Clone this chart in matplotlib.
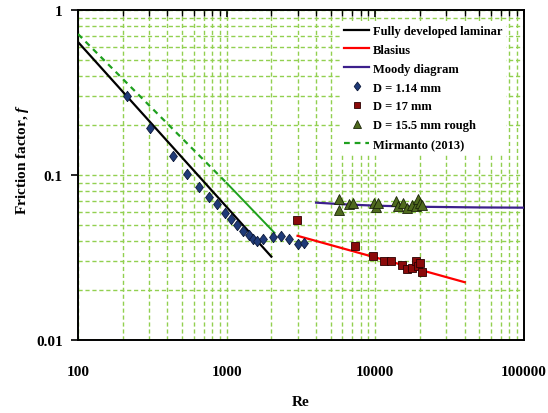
import matplotlib
matplotlib.use("Agg")
import matplotlib.pyplot as plt
from matplotlib.ticker import LogLocator, NullFormatter, FixedLocator, FixedFormatter
import numpy as np

plt.rcParams['font.family'] = ['Liberation Serif', 'DejaVu Serif']
plt.rcParams['font.weight'] = 'bold'
plt.rcParams['mathtext.fontset'] = 'custom'
plt.rcParams['mathtext.it'] = 'Liberation Serif:italic:bold'

# reference lines
lam_re = [100, 2000]
lam_f = [0.64, 0.032]
blas_re = [3000, 40000]
blas_f = [0.0428, 0.0224]
moody_re = [4000, 6000, 10000, 20000, 50000, 100000]
moody_f = [0.068, 0.0665, 0.0652, 0.0642, 0.0636, 0.0634]
mir_re_dash = [100, 1000]
mir_f_dash = [0.715, 0.0895]
mir_re_solid = [1000, 2100]
mir_f_solid = [0.0895, 0.0446]

# D = 1.14 mm
d1_re = [213, 304, 434, 539, 649, 757, 857, 970, 1064, 1168, 1283, 1406, 1500,
         1590, 1770, 2065, 2338, 2648, 3040, 3320]
d1_f = [0.300, 0.194, 0.131, 0.102, 0.085, 0.074, 0.067, 0.059, 0.054, 0.050,
        0.046, 0.043, 0.041, 0.040, 0.041, 0.042, 0.0425, 0.041, 0.038, 0.0385]

# D = 17 mm
d2_re = [2982, 7345, 9700, 11430, 12740, 15100, 16310, 17600, 18730, 19320, 20040, 20680]
d2_f = [0.0536, 0.0373, 0.0323, 0.0302, 0.0303, 0.0283, 0.0268, 0.0275, 0.0303,
        0.0281, 0.0294, 0.0260]

# D = 15.5 mm rough
d3_re = [5673, 5673, 6625, 7080, 9750, 10170, 10430, 13830, 14330, 15320, 16300,
         17600, 18730, 19500, 20040, 20560]
d3_f = [0.0712, 0.0611, 0.0671, 0.0681, 0.0680, 0.0637, 0.0680, 0.0693, 0.0650,
        0.0680, 0.0630, 0.0662, 0.0650, 0.0712, 0.0680, 0.0655]

fig = plt.figure(figsize=(5.48, 4.14), dpi=100)
ax = fig.add_axes([0.1423, 0.1763, 0.8137, 0.7971])

grid_c = '#92d050'
ax.set_xscale('log')
ax.set_yscale('log')
ax.set_xlim(100, 100000)
ax.set_ylim(0.01, 1)

ax.grid(True, which='both', color=grid_c, linestyle=(0, (3, 2)), linewidth=1.0)
ax.set_axisbelow(True)

ax.plot(lam_re, lam_f, color='black', lw=1.6, label='Fully developed laminar', zorder=3)
ax.plot(blas_re, blas_f, color='#ff0000', lw=1.6, label='Blasius', zorder=3)
ax.plot(moody_re, moody_f, color='#3c1f8c', lw=1.6, label='Moody diagram', zorder=3)

diamond = [(0, -1), (0.75, 0), (0, 1), (-0.75, 0), (0, -1)]
ax.plot(d1_re, d1_f, linestyle='none', marker=diamond, markersize=7.5,
        markerfacecolor='#1f3a78', markeredgecolor='#0d1a3a', markeredgewidth=0.6,
        label='D = 1.14 mm', zorder=4)
ax.plot(d2_re, d2_f, linestyle='none', marker='s', markersize=5.5,
        markerfacecolor='#8b0a0a', markeredgecolor='#2a0000', markeredgewidth=0.6,
        label='D = 17 mm', zorder=4)
ax.plot(d3_re, d3_f, linestyle='none', marker='^', markersize=6.5,
        markerfacecolor='#4f6a1e', markeredgecolor='#1a2408', markeredgewidth=0.6,
        label='D = 15.5 mm rough', zorder=4)

ax.plot(mir_re_dash, mir_f_dash, color='#1fa01f', lw=1.6, linestyle=(0, (2.6, 2.2)),
        label='Mirmanto (2013)', zorder=3)
ax.plot(mir_re_solid, mir_f_solid, color='#1fa01f', lw=1.4, zorder=3)

# ticks
ax.xaxis.set_major_locator(FixedLocator([100, 1000, 10000, 100000]))
ax.xaxis.set_major_formatter(FixedFormatter(['100', '1000', '10000', '100000']))
ax.xaxis.set_minor_locator(LogLocator(base=10, subs=np.arange(2, 10)))
ax.xaxis.set_minor_formatter(NullFormatter())
ax.yaxis.set_major_locator(FixedLocator([0.01, 0.1, 1]))
ax.yaxis.set_major_formatter(FixedFormatter(['0.01', '0.1', '1']))
ax.yaxis.set_minor_locator(LogLocator(base=10, subs=np.arange(2, 10)))
ax.yaxis.set_minor_formatter(NullFormatter())

ax.tick_params(axis='x', which='both', bottom=False, top=True, direction='in',
               labelsize=11, pad=18)
ax.tick_params(axis='x', which='major', length=5, width=1.2)
ax.tick_params(axis='x', which='minor', length=4, width=1.0)
ax.tick_params(axis='y', which='major', left=True, direction='out', length=5,
               width=1.2, labelsize=11, pad=6)
ax.tick_params(axis='y', which='minor', left=False, right=False)

for s in ax.spines.values():
    s.set_linewidth(1.4)

ax.set_xlabel('Re', fontsize=11, fontweight='bold', labelpad=12)
ax.set_ylabel(r'Friction factor, $\mathit{f}$', fontsize=11, fontweight='bold',
              labelpad=10)
ax.yaxis.set_label_coords(-0.105, 0.55)

leg = ax.legend(loc='upper right', bbox_to_anchor=(0.975, 0.985), frameon=True,
                fontsize=9, handlelength=2.0, handletextpad=0.3, labelspacing=0.55,
                borderpad=0.3, markerscale=0.85)
leg.get_frame().set_facecolor('white')
leg.get_frame().set_edgecolor('none')
leg.get_frame().set_alpha(1)

fig.savefig('out.png', dpi=100)
